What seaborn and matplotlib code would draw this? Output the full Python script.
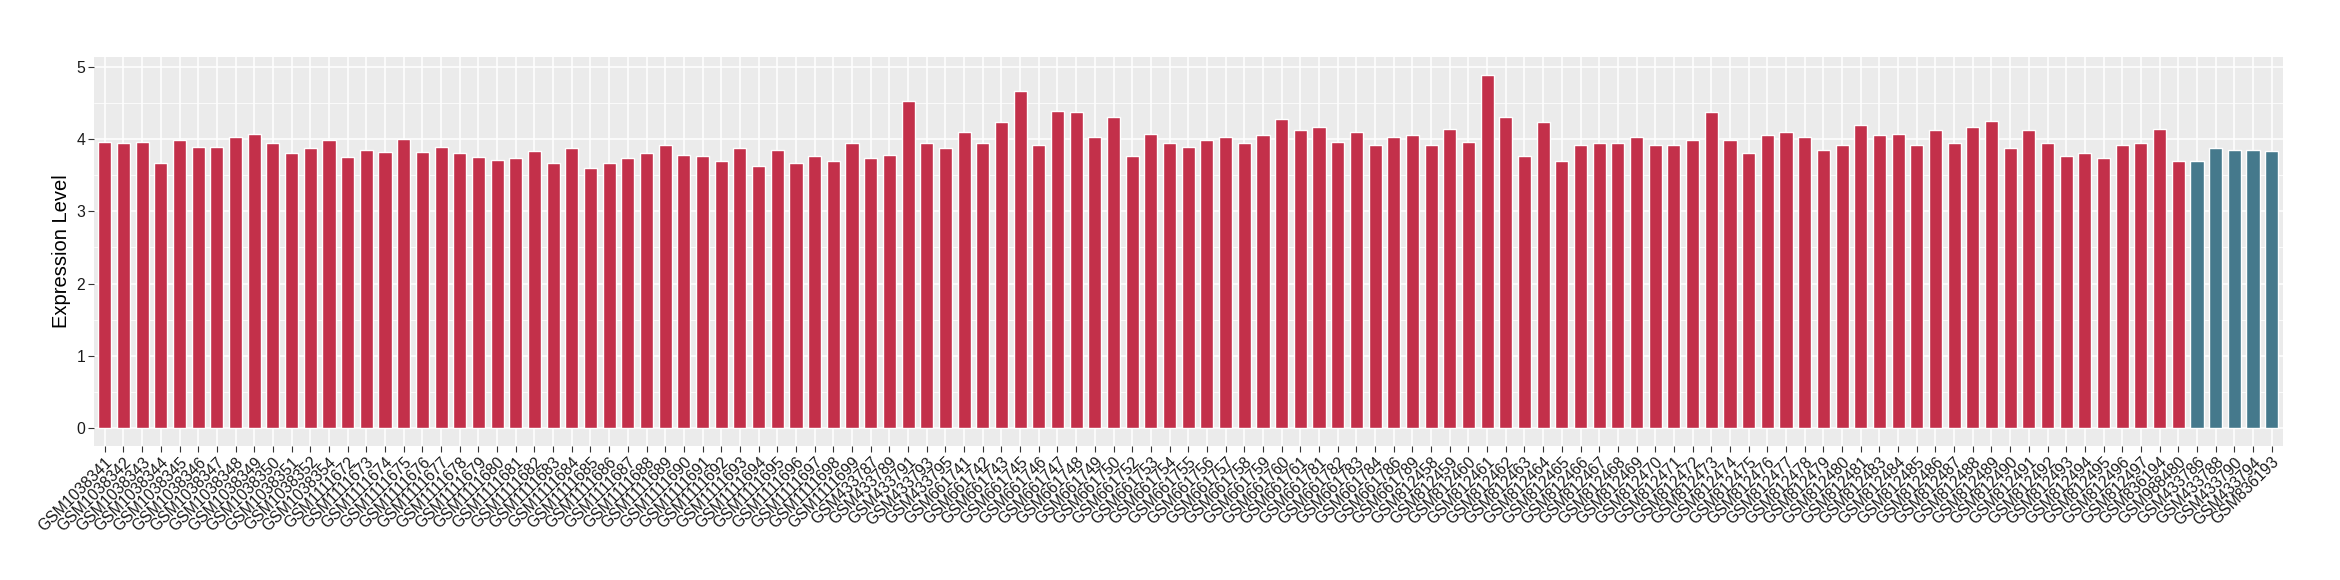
import matplotlib
matplotlib.use('Agg')
import matplotlib.pyplot as plt
import matplotlib.ticker as mticker
import pandas as pd
import seaborn as sns

# sample ids in plot order
samples_a = ['GSM1038341', 'GSM1038342', 'GSM1038343', 'GSM1038344', 'GSM1038345', 'GSM1038346',
             'GSM1038347', 'GSM1038348', 'GSM1038349', 'GSM1038350', 'GSM1038351', 'GSM1038352',
             'GSM1038354', 'GSM1111672', 'GSM1111673', 'GSM1111674', 'GSM1111675', 'GSM1111676',
             'GSM1111677', 'GSM1111678', 'GSM1111679', 'GSM1111680', 'GSM1111681', 'GSM1111682',
             'GSM1111683', 'GSM1111684', 'GSM1111685', 'GSM1111686', 'GSM1111687', 'GSM1111688',
             'GSM1111689', 'GSM1111690', 'GSM1111691', 'GSM1111692', 'GSM1111693', 'GSM1111694',
             'GSM1111695', 'GSM1111696', 'GSM1111697', 'GSM1111698', 'GSM1111699', 'GSM433787',
             'GSM433789', 'GSM433791', 'GSM433793', 'GSM433795', 'GSM661741', 'GSM661742',
             'GSM661743', 'GSM661745', 'GSM661746', 'GSM661747', 'GSM661748', 'GSM661749',
             'GSM661750', 'GSM661752', 'GSM661753', 'GSM661754', 'GSM661755', 'GSM661756',
             'GSM661757', 'GSM661758', 'GSM661759', 'GSM661760', 'GSM661761', 'GSM661781',
             'GSM661782', 'GSM661783', 'GSM661784', 'GSM661786', 'GSM661789', 'GSM812458',
             'GSM812459', 'GSM812460', 'GSM812461', 'GSM812462', 'GSM812463', 'GSM812464',
             'GSM812465', 'GSM812466', 'GSM812467', 'GSM812468', 'GSM812469', 'GSM812470',
             'GSM812471', 'GSM812472', 'GSM812473', 'GSM812474', 'GSM812475', 'GSM812476',
             'GSM812477', 'GSM812478', 'GSM812479', 'GSM812480', 'GSM812481', 'GSM812483',
             'GSM812484', 'GSM812485', 'GSM812486', 'GSM812487', 'GSM812488', 'GSM812489',
             'GSM812490', 'GSM812491', 'GSM812492', 'GSM812493', 'GSM812494', 'GSM812495',
             'GSM812496', 'GSM812497', 'GSM836194', 'GSM988480']
samples_b = ['GSM433786', 'GSM433788', 'GSM433790', 'GSM433794', 'GSM836193']

values_a = [3.96, 3.95, 3.96, 3.67, 3.98, 3.89, 3.89, 4.02, 4.07, 3.94, 3.81, 3.87,
            3.99, 3.75, 3.85, 3.82, 4.00, 3.82, 3.89, 3.81, 3.75, 3.71, 3.74, 3.84,
            3.67, 3.88, 3.60, 3.67, 3.73, 3.81, 3.91, 3.78, 3.77, 3.69, 3.88, 3.63,
            3.85, 3.67, 3.77, 3.69, 3.94, 3.74, 3.78, 4.52, 3.94, 3.87, 4.09, 3.94,
            4.23, 4.66, 3.92, 4.38, 4.37, 4.03, 4.31, 3.77, 4.07, 3.94, 3.89, 3.99,
            4.02, 3.94, 4.05, 4.27, 4.13, 4.17, 3.96, 4.09, 3.91, 4.03, 4.05, 3.91,
            4.14, 3.96, 4.89, 4.31, 3.77, 4.24, 3.70, 3.91, 3.95, 3.94, 4.03, 3.92,
            3.92, 3.99, 4.37, 3.99, 3.80, 4.06, 4.10, 4.03, 3.85, 3.92, 4.19, 4.05,
            4.07, 3.91, 4.12, 3.94, 4.17, 4.25, 3.88, 4.12, 3.94, 3.77, 3.81, 3.74,
            3.91, 3.94, 4.14, 3.70]
values_b = [3.70, 3.88, 3.85, 3.85, 3.84]

group_colors = {'a': '#C3304A', 'b': '#45798C'}


def main():
    df = pd.DataFrame({
        'sample': samples_a + samples_b,
        'value': values_a + values_b,
        'group': ['a'] * len(samples_a) + ['b'] * len(samples_b),
    })

    sns.set_theme(style='darkgrid', rc={'axes.facecolor': '#EBEBEB', 'grid.color': 'white'})
    plt.rcParams['font.family'] = ['Liberation Sans', 'DejaVu Sans']

    fig = plt.figure(figsize=(23.4, 5.8), dpi=100)
    ax = fig.add_axes([0.040, 0.231, 0.9356, 0.671])

    sns.barplot(data=df, x='sample', y='value', hue='group', palette=group_colors,
                dodge=False, width=0.7, legend=False, ax=ax, saturation=1)

    ax.set_xlim(-0.6, len(df) - 0.4)
    ax.set_ylim(-0.245, 5.135)
    ax.yaxis.set_major_locator(mticker.MultipleLocator(1))
    ax.yaxis.set_minor_locator(mticker.MultipleLocator(0.5))
    ax.set_axisbelow(True)
    ax.grid(which='major', color='white', linewidth=1.1)
    ax.grid(which='minor', axis='y', color='white', linewidth=0.55)
    for s in ax.spines.values():
        s.set_visible(False)

    ax.set_xlabel('')
    ax.set_ylabel('Expression Level', fontsize=14.5, color='black', labelpad=4)
    ax.tick_params(axis='both', which='major', length=4, width=0.8, color='#333333',
                   labelsize=11.3, labelcolor='#1a1a1a', pad=2, bottom=True, left=True)
    ax.tick_params(which='minor', length=0)
    plt.setp(ax.get_xticklabels(), rotation=45, ha='right', rotation_mode='anchor')

    fig.savefig('out.png', dpi=100)


if __name__ == "__main__":
    main()
